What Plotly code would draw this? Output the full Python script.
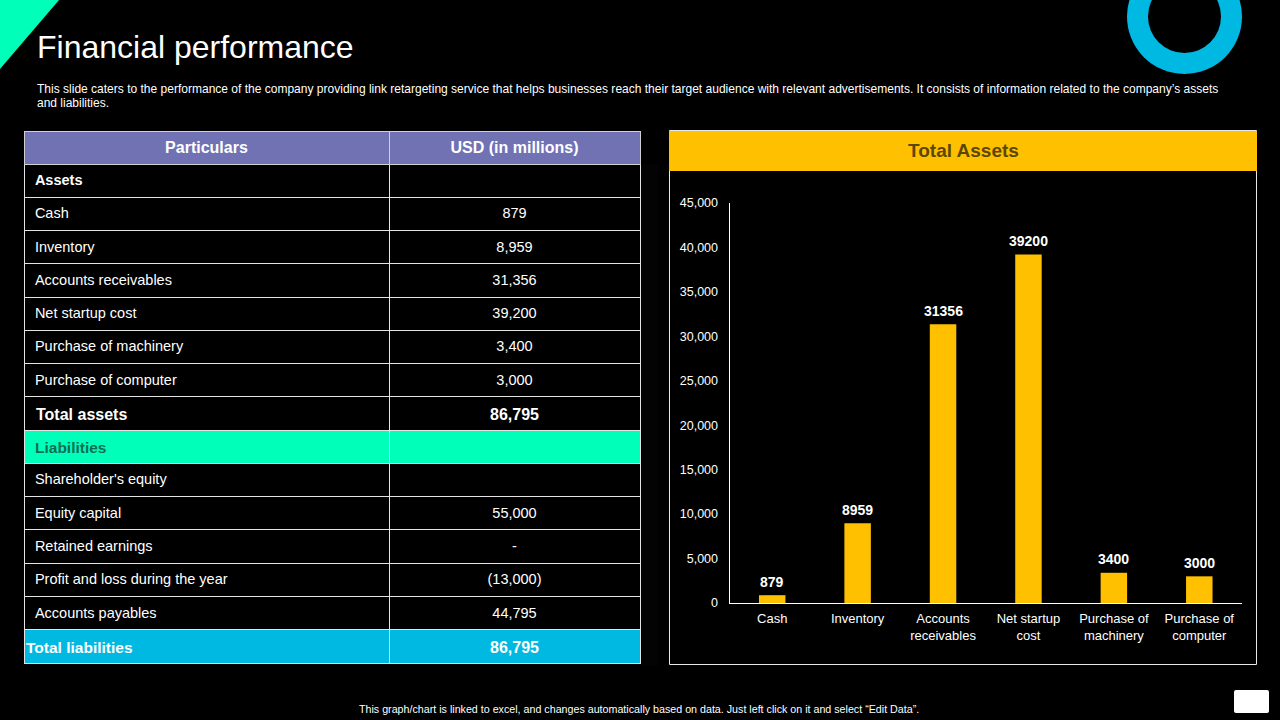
import plotly.graph_objects as go

# Table contents
particulars = ["Assets", "Cash", "Inventory", "Accounts receivables", "Net startup cost",
               "Purchase of machinery", "Purchase of computer", "Total assets", "Liabilities",
               "Shareholder's equity", "Equity capital", "Retained earnings",
               "Profit and loss during the year", "Accounts payables", "Total liabilities"]
usd_values = ["", "879", "8,959", "31,356", "39,200", "3,400", "3,000", "86,795", "",
              "", "55,000", "-", "(13,000)", "44,795", "86,795"]
bold_rows = ["Assets"]
# rows set larger than the rest, a table trace has one font size per column
big_rows = ["Total assets", "Liabilities", "Total liabilities"]

# Bar chart data
categories = ["Cash", "Inventory", "Accounts<br>receivables", "Net startup<br>cost",
              "Purchase of<br>machinery", "Purchase of<br>computer"]
total_assets = [879, 8959, 31356, 39200, 3400, 3000]

W, H = 1280, 720
FONT = "Liberation Sans"
MINT = "#00FFB9"
BLUE = "#00B9E2"
AMBER = "#FFC000"
PURPLE = "#7072B4"
ROW_TOP, ROW_H = 164, 33.27


# pixel position -> paper coordinates
def px(x):
    return x / W


def py(y):
    return 1 - y / H


def box(x0, y0, x1, y1, fill="rgba(0,0,0,0)", line=None, kind="rect"):
    return dict(type=kind, xref="paper", yref="paper", x0=px(x0), x1=px(x1), y0=py(y0), y1=py(y1),
                fillcolor=fill, line=dict(color=line, width=1) if line else dict(width=0), layer="below")


def label(x, y, text, size, color="white", anchor="left"):
    return dict(xref="paper", yref="paper", x=px(x), y=py(y), text=text, showarrow=False,
                xanchor=anchor, yanchor="middle", align="left", font=dict(family=FONT, size=size, color=color))


# every cell goes through a tag so plotly places them all on the same baseline
def cell_text(row, value):
    if not value or row in big_rows:
        return ""
    tag = "b" if row in bold_rows else "span"
    return f"<{tag}>{value}</{tag}>"


row_fill = [MINT if r == "Liabilities" else BLUE if r == "Total liabilities" else "black" for r in particulars]
left_col = [cell_text(r, "\u2009" + r) for r in particulars]
right_col = [cell_text(r, v) for r, v in zip(particulars, usd_values)]

# the larger rows, written over their cells
big_labels = []
for r in big_rows:
    i = particulars.index(r)
    mid = ROW_TOP + ROW_H * i + ROW_H / 2 + 1
    if r == "Liabilities":
        big_labels.append(label(33, mid, f"<b>{r}</b>", 15.5, color="#0B6E52"))
    else:
        big_labels.append(label(24 if r == "Total liabilities" else 34, mid, f"<b>{r}</b>",
                                15.5 if r == "Total liabilities" else 16))
        big_labels.append(label(514.5, mid, f"<b>{usd_values[i]}</b>", 16, anchor="center"))

# value labels sit further off the bars than textposition="outside" puts them
bar_labels = [dict(xref="x", yref="y", x=c, y=v, text=f"<b>{v}</b>", showarrow=False, yanchor="middle", yshift=13.5,
                   font=dict(family=FONT, size=14, color="white"))
              for c, v in zip(categories, total_assets)]

fig = go.Figure()

fig.add_trace(go.Table(
    domain=dict(x=[px(24), px(640)], y=[py(666), py(131)]),
    columnwidth=[365, 251],
    header=dict(values=["<b>Particulars</b>", "<b>USD (in millions)</b>"], height=33,
                fill_color=PURPLE, line_color="#d0d0d0", align="center",
                font=dict(family=FONT, size=16, color="white")),
    cells=dict(values=[left_col, right_col], height=ROW_H,
               fill_color=[row_fill, row_fill], line_color="#e4e4e4",
               align=["left", "center"],
               font=dict(family=FONT, size=14.5, color="white")),
))

fig.add_trace(go.Bar(
    x=categories, y=total_assets, marker=dict(color=AMBER, line=dict(width=0)), width=0.31,
    showlegend=False,
))

fig.update_layout(
    width=W, height=H, margin=dict(l=0, r=0, t=0, b=0),
    paper_bgcolor="black", plot_bgcolor="black",
    font=dict(family=FONT, color="white"),
    xaxis=dict(domain=[px(729.5), px(1242)], anchor="y", showline=True, linecolor="white", linewidth=1,
               showgrid=False, ticks="outside", ticklen=3, tickcolor="rgba(0,0,0,0)", automargin=False,
               tickfont=dict(family=FONT, size=13, color="white"), tickangle=0),
    yaxis=dict(domain=[py(603), py(203)], anchor="x", range=[0, 45000], dtick=5000, tickformat=",",
               showline=True, linecolor="white", linewidth=1, showgrid=False, zeroline=False,
               ticks="outside", ticklen=8, tickcolor="rgba(0,0,0,0)", automargin=False,
               tickfont=dict(family=FONT, size=12.5, color="white")),
    shapes=[
        box(669.5, 130.5, 1256.5, 664.5, line="#e8e8e8"),
        box(669, 131, 1257, 171, fill=AMBER),
        # corner triangle
        dict(type="path", xref="paper", yref="paper", layer="below", fillcolor=MINT, line=dict(width=0),
             path=f"M 0 {py(0)} L {px(59)} {py(0)} L 0 {py(69)} Z"),
        # ring, top part runs off the slide
        box(1127, -41, 1242, 74, fill=BLUE, kind="circle"),
        box(1148, -20, 1221, 53, fill="black", kind="circle"),
        # white tag bottom right
        dict(type="path", xref="paper", yref="paper", layer="below", fillcolor="white", line=dict(width=0),
             path=f"M {px(1236)} {py(690)} L {px(1267)} {py(690)} Q {px(1269)} {py(690)} {px(1269)} {py(692)} "
                  f"L {px(1269)} {py(711)} Q {px(1269)} {py(713)} {px(1267)} {py(713)} "
                  f"L {px(1236)} {py(713)} Q {px(1234)} {py(713)} {px(1234)} {py(711)} "
                  f"L {px(1234)} {py(692)} Q {px(1234)} {py(690)} {px(1236)} {py(690)} Z"),
    ],
    annotations=[
        label(35, 47, "Financial performance", 32),
        label(35, 88.5, "This slide caters to the performance of the company providing link retargeting service "
              "that helps businesses reach their target audience with relevant advertisements. It consists of "
              "information related to the company’s assets", 12.03),
        label(35, 102.5, "and liabilities.", 12),
        label(963, 150, "<b>Total Assets</b>", 19, color="#5C4700", anchor="center"),
        label(639, 709, "This graph/chart is linked to excel, and changes automatically based on data. "
              "Just left click on it and select “Edit Data”.", 10.7, anchor="center"),
    ] + big_labels + bar_labels,
)

fig.write_html("out.html", config=dict(displayModeBar=False),
               post_script="document.body.style.margin='0';")
